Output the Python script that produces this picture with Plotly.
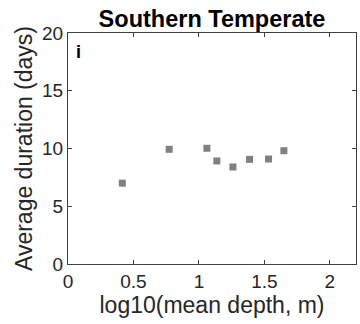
import plotly.graph_objects as go

log_depth = [0.415, 0.773, 1.061, 1.137, 1.26, 1.387, 1.532, 1.649]
avg_duration = [7.0, 9.93, 10.02, 8.92, 8.40, 9.06, 9.09, 9.81]
x_ticks = [0, 0.5, 1, 1.5, 2]
x_tick_labels = ["0", "0.5", "1", "1.5", "2"]
y_ticks = [0, 5, 10, 15, 20]

FONT = "Liberation Sans, Arial, sans-serif"
AX = "#404040"
TXT = "#262626"

fig = go.Figure()
fig.add_trace(go.Scatter(
    x=log_depth, y=avg_duration, mode="markers",
    marker=dict(symbol="square", size=7, color="#808080", line=dict(width=0)),
    showlegend=False,
))

fig.update_layout(
    width=360, height=324,
    margin=dict(l=68, r=4, t=33, b=60),
    paper_bgcolor="white", plot_bgcolor="white",
    font=dict(family=FONT, color=TXT),
    title=dict(text="<b>Southern Temperate</b>", x=(68 + 356) / 2 / 360, xanchor="center",
               y=1 - 19 / 324, yanchor="middle", font=dict(size=23.5, color="black")),
    xaxis=dict(range=[0, 2.2], tickvals=x_ticks, ticktext=x_tick_labels,
               ticks="inside", ticklen=4, tickcolor=AX, showline=True, linecolor=AX,
               linewidth=1, mirror="ticks", showgrid=False, zeroline=False,
               tickfont=dict(size=19, color=TXT),
               title=dict(text="log10(mean depth, m)", font=dict(size=23, color=TXT), standoff=4)),
    yaxis=dict(range=[0, 20], tickvals=y_ticks,
               ticks="inside", ticklen=4, tickcolor=AX, showline=True, linecolor=AX,
               linewidth=1, mirror="ticks", showgrid=False, zeroline=False,
               tickfont=dict(size=19, color=TXT),
               title=dict(text="Average duration (days)", font=dict(size=23, color=TXT), standoff=3)),
    annotations=[dict(text="<b>i</b>", xref="paper", yref="paper", x=0.02, y=0.97,
                      xanchor="left", yanchor="top", showarrow=False,
                      font=dict(size=18, color="black"))],
)

fig.write_html("out.html")
